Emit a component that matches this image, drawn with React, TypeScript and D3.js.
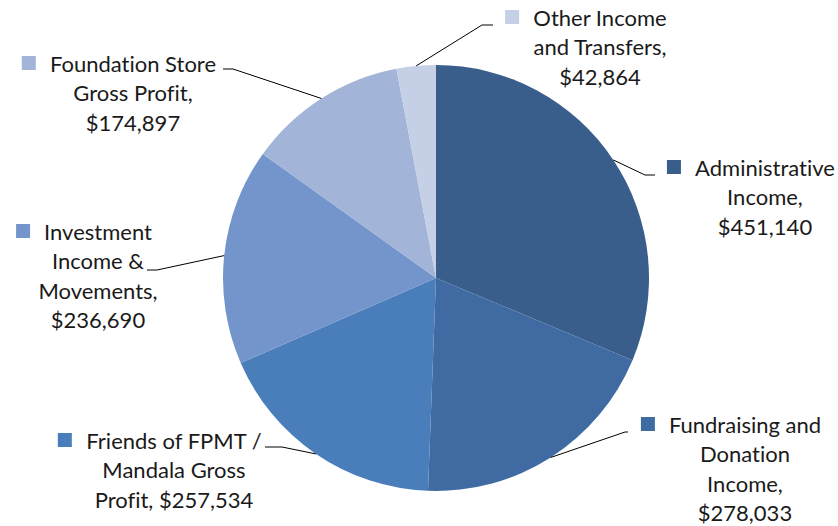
import React from "react";
import * as d3 from "d3";

const categories = [
  "Administrative Income",
  "Fundraising and Donation Income",
  "Friends of FPMT / Mandala Gross Profit",
  "Investment Income & Movements",
  "Foundation Store Gross Profit",
  "Other Income and Transfers",
];
const values = [451140, 278033, 257534, 236690, 174897, 42864];
const colors = ["#3A5E8C", "#3F6BA2", "#4A7EBB", "#7395CB", "#A2B5D8", "#C5CFE5"];
const labelLines = [
  ["Administrative", "Income,", "$451,140"],
  ["Fundraising and", "Donation", "Income,", "$278,033"],
  ["Friends of FPMT /", "Mandala Gross", "Profit, $257,534"],
  ["Investment", "Income &", "Movements,", "$236,690"],
  ["Foundation Store", "Gross Profit,", "$174,897"],
  ["Other Income", "and Transfers,", "$42,864"],
];
// label layout: center x of text block, middle of first line, elbow point of leader
const labelLayout = [
  { cx: 765, y: 167, ex: 645, ey: 175, hx: 655 },
  { cx: 745, y: 424, ex: 625, ey: 432, hx: 628 },
  { cx: 174, y: 440, ex: 282, ey: 447, hx: 265 },
  { cx: 98, y: 231, ex: 157, ey: 270, hx: 147 },
  { cx: 133, y: 63, ex: 233, ey: 69, hx: 223 },
  { cx: 600, y: 17, ex: 482, ey: 25, hx: 493 },
];

const FONT = "Lato, 'Open Sans', sans-serif";
const FS = 22;

function measure(text: string): number {
  if (typeof document === "undefined") return text.length * FS * 0.5;
  const c = document.createElement("canvas").getContext("2d");
  if (!c) return text.length * FS * 0.5;
  c.font = `${FS}px ${FONT}`;
  return c.measureText(text).width;
}

export default function App() {
  const W = 838, H = 526;
  const cx = 436, cy = 278, r = 213;
  const pie = d3.pie<number>().sort(null).value((d) => d);
  const arcs = pie(values);
  const arc = d3.arc<d3.PieArcDatum<number>>().innerRadius(0).outerRadius(r);
  const lh = 29.5;

  return (
    <svg width={W} height={H} style={{ position: "absolute", left: 0, top: 0, background: "#fff" }}>
      <g transform={`translate(${cx},${cy})`}>
        {arcs.map((a, i) => (
          <path key={i} d={arc(a) || ""} fill={colors[i]} />
        ))}
      </g>
      {arcs.map((a, i) => {
        const mid = (a.startAngle + a.endAngle) / 2;
        const px = cx + r * Math.sin(mid);
        const py = cy - r * Math.cos(mid);
        const L = labelLayout[i];
        return (
          <polyline
            key={"l" + i}
            points={`${px},${py} ${L.ex},${L.ey} ${L.hx},${L.ey}`}
            fill="none"
            stroke="#000"
            strokeWidth={1}
          />
        );
      })}
      {labelLines.map((lines, i) => {
        const L = labelLayout[i];
        return (
          <g
            key={"t" + i}
            fontFamily={FONT}
            fontSize={FS}
            fill="#1a1a1a"
            style={{ fontVariantLigatures: "none" }}
          >
            {lines.map((ln, j) => (
              <text key={j} x={L.cx} y={L.y + j * lh} textAnchor="middle" dominantBaseline="central">
                {ln}
              </text>
            ))}
          </g>
        );
      })}
      {labelLines.map((lines, i) => {
        const L = labelLayout[i];
        const w = measure(lines[0]);
        return (
          <rect
            key={"s" + i}
            x={L.cx - w / 2 - 14 - 14}
            y={L.y - 7}
            width={14}
            height={14}
            fill={colors[i]}
          />
        );
      })}
    </svg>
  );
}
